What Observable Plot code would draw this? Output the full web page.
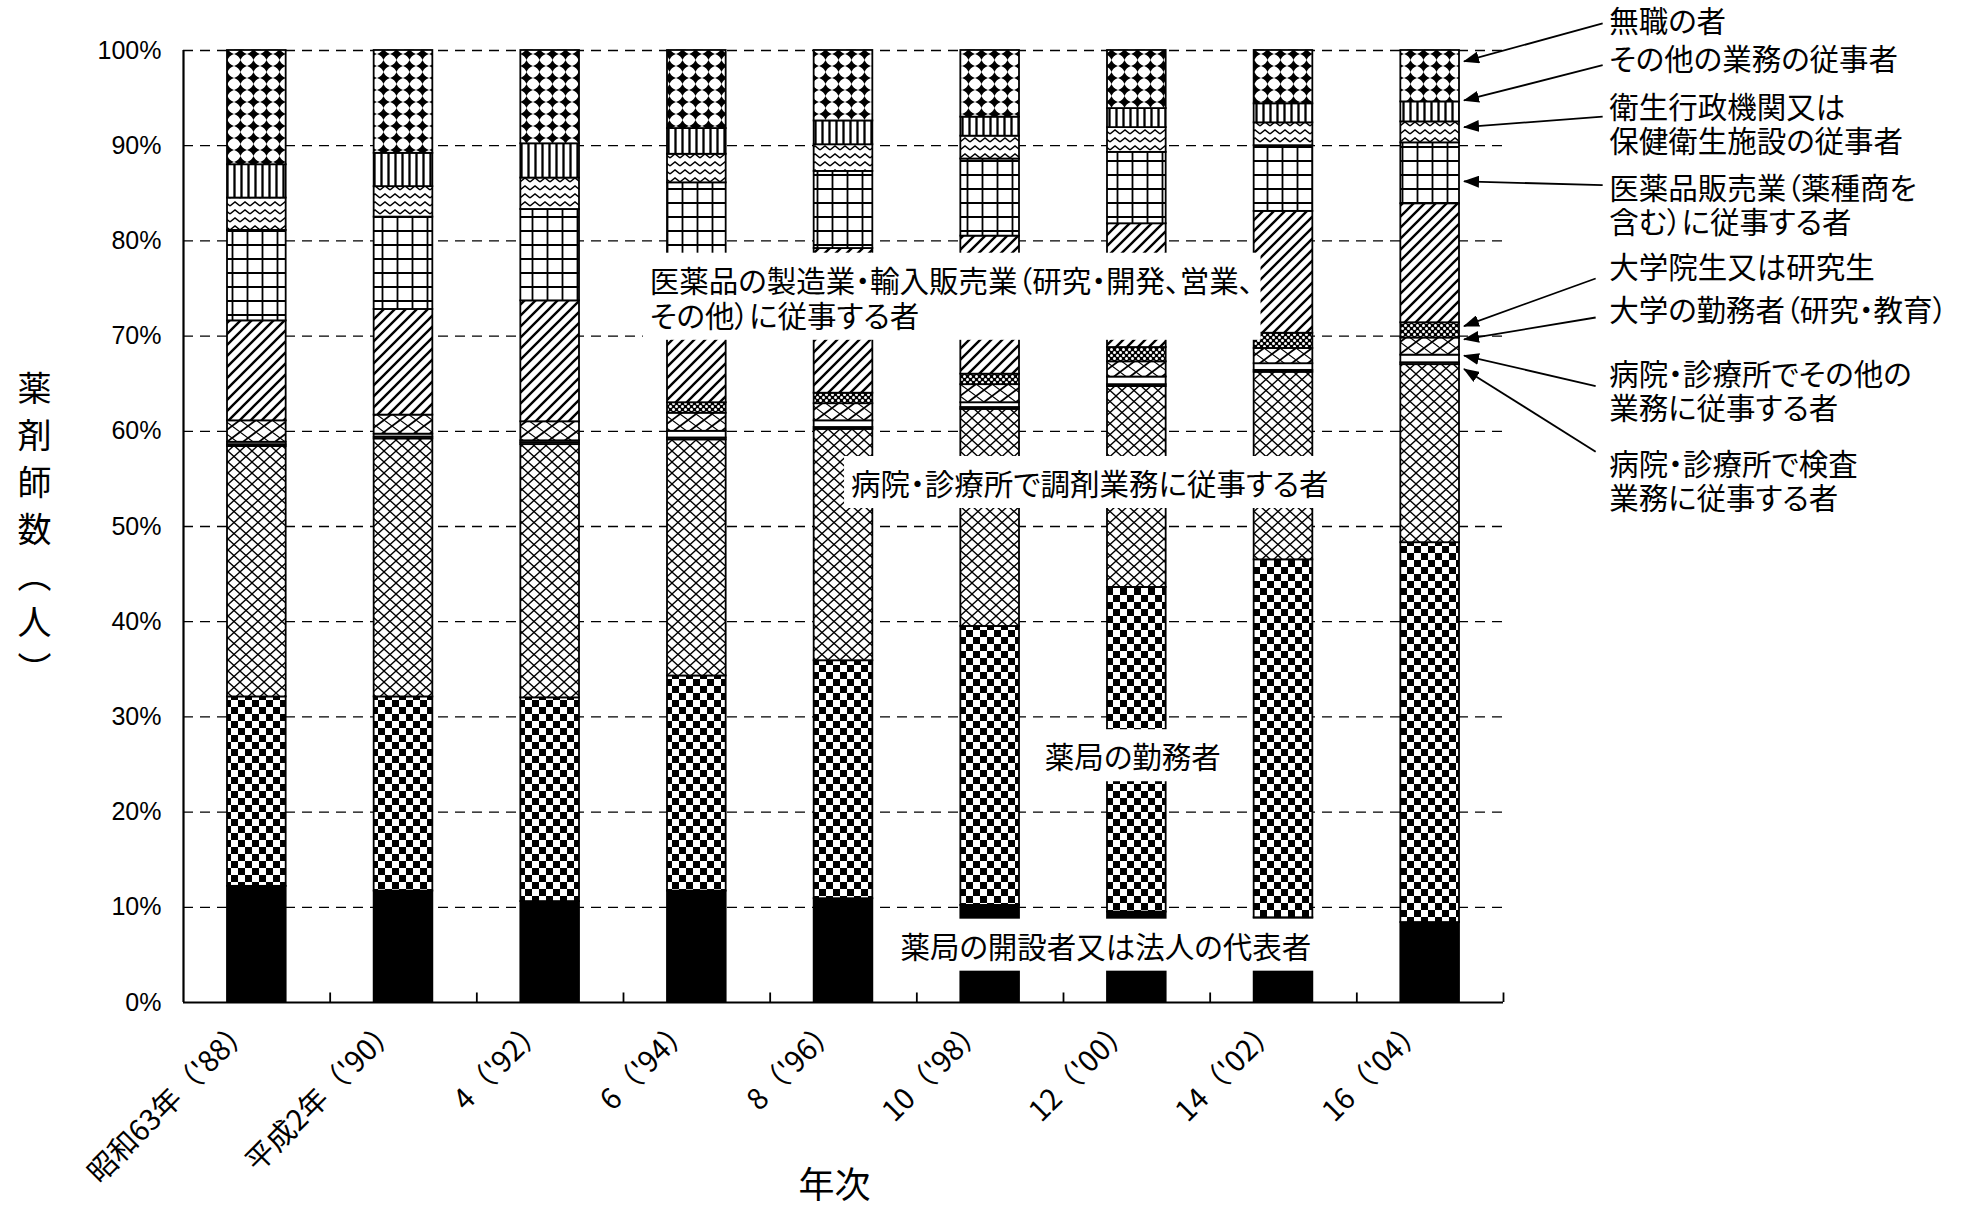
<!DOCTYPE html>
<html>
<head>
<meta charset="utf-8">
<script src="https://cdn.jsdelivr.net/npm/d3@7"></script>
<script src="https://cdn.jsdelivr.net/npm/@observablehq/plot@0.6"></script>
<style>
  html, body { margin: 0; padding: 0; background: #fff; }
  #chart svg { display: block; }
  g[aria-description="annot"] text, g[aria-description="legend-label"] text { font-feature-settings: "palt" 1; }
</style>
</head>
<body>
<div id="chart"></div>
<script>
// ---- data (percent of pharmacists) ----
const years = ["昭和63年（'88）", "平成2年（'90）", "4（'92）", "6（'94）", "8（'96）", "10（'98）", "12（'00）", "14（'02）", "16（'04）"];
const seriesNames = [
  "薬局の開設者又は法人の代表者",
  "薬局の勤務者",
  "病院・診療所で調剤業務に従事する者",
  "病院・診療所で検査業務に従事する者",
  "病院・診療所でその他の業務に従事する者",
  "大学の勤務者（研究・教育）",
  "大学院生又は研究生",
  "医薬品の製造業・輸入販売業に従事する者",
  "医薬品販売業に従事する者",
  "衛生行政機関又は保健衛生施設の従事者",
  "その他の業務の従事者",
  "無職の者"
];
const kaisetsu   = [12.2, 11.7, 10.6, 11.7, 10.9, 10.2, 9.5, 8.9, 8.4];
const kinmu      = [19.9, 20.4, 21.4, 22.6, 25.0, 29.3, 34.1, 37.6, 39.9];
const chozai     = [26.3, 27.1, 26.6, 24.8, 24.3, 22.8, 21.1, 19.7, 18.7];
const kensa      = [0.2, 0.2, 0.2, 0.2, 0.2, 0.2, 0.2, 0.2, 0.2];
const byoinOther = [0.25, 0.3, 0.2, 0.7, 0.7, 0.5, 0.8, 0.7, 0.8];
const daigaku    = [2.25, 2.0, 2.0, 1.9, 1.8, 1.9, 1.6, 1.6, 1.8];
const daigakuin  = [0, 0, 0, 1.1, 1.1, 1.1, 1.5, 1.6, 1.6];
const seizo      = [10.5, 11.1, 12.7, 14.0, 15.2, 14.5, 13.0, 12.8, 12.5];
const hanbai     = [9.5, 9.7, 9.6, 9.1, 8.1, 8.1, 7.5, 6.9, 6.4];
const eisei      = [3.4, 3.2, 3.3, 3.0, 2.8, 2.4, 2.6, 2.4, 2.2];
const sonota     = [3.5, 3.5, 3.6, 2.7, 2.5, 2.0, 2.0, 2.0, 2.1];
const mushoku    = [12.0, 10.8, 9.8, 8.2, 7.4, 7.0, 6.1, 5.6, 5.4];
const yTicks = [0, 10, 20, 30, 40, 50, 60, 70, 80, 90, 100];
const gridTicks = [10, 20, 30, 40, 50, 60, 70, 80, 90, 100];
const yTitle = "薬\n剤\n師\n数\n︵\n人\n︶";
const xTitle = "年次";

const seriesValues = [kaisetsu, kinmu, chozai, kensa, byoinOther, daigaku, daigakuin, seizo, hanbai, eisei, sonota, mushoku];
const rows = seriesNames.flatMap((name, k) =>
  years.map((year, i) => ({year, name, value: seriesValues[k][i]}))
).filter(d => d.value > 0);

// ---- fills (SVG patterns, black & white like the original) ----
const patternFills = [
  "#000", "url(#pChecker)", "url(#pXhatch)", "url(#pHLines)", "#fff", "url(#pUniv)",
  "url(#pDots)", "url(#pDiag)", "url(#pGrid)", "url(#pWave)", "url(#pVert)", "url(#pDiamond)"
];
const defsMarkup = `
<pattern id="pChecker" patternUnits="userSpaceOnUse" width="14" height="14"><rect width="14" height="14" fill="#fff"/><rect width="7" height="7" fill="#000"/><rect x="7" y="7" width="7" height="7" fill="#000"/></pattern>
<pattern id="pXhatch" patternUnits="userSpaceOnUse" width="12" height="11"><rect width="12" height="11" fill="#fff"/><path d="M0,0L12,11M12,0L0,11" stroke="#000" stroke-width="1.3" fill="none"/></pattern>
<pattern id="pHLines" patternUnits="userSpaceOnUse" width="6" height="3"><rect width="6" height="3" fill="#fff"/><path d="M0,1.5H6" stroke="#000" stroke-width="1.6"/></pattern>
<pattern id="pUniv" patternUnits="userSpaceOnUse" width="16" height="12"><rect width="16" height="12" fill="#fff"/><path d="M0,12L16,0" stroke="#000" stroke-width="1.8" fill="none"/><path d="M0,0L16,12" stroke="#000" stroke-width="1.1" fill="none"/></pattern>
<pattern id="pDots" patternUnits="userSpaceOnUse" width="6" height="6"><rect width="6" height="6" fill="#000"/><circle cx="1.5" cy="1.5" r="1.5" fill="#fff"/><circle cx="4.5" cy="4.5" r="1.5" fill="#fff"/></pattern>
<pattern id="pDiag" patternUnits="userSpaceOnUse" width="11" height="11"><rect width="11" height="11" fill="#fff"/><path d="M0,11L11,0M-3,3L3,-3M8,14L14,8" stroke="#000" stroke-width="2.4" fill="none"/></pattern>
<pattern id="pGrid" patternUnits="userSpaceOnUse" width="15" height="14"><rect width="15" height="14" fill="#fff"/><path d="M0,7H15M7.5,0V14" stroke="#000" stroke-width="1.8" fill="none"/></pattern>
<pattern id="pWave" patternUnits="userSpaceOnUse" width="10" height="8"><rect width="10" height="8" fill="#fff"/><path d="M0,6L5,2L10,6" stroke="#000" stroke-width="1.4" fill="none"/></pattern>
<pattern id="pVert" patternUnits="userSpaceOnUse" width="7" height="10"><rect width="7" height="10" fill="#fff"/><path d="M3.5,0V10" stroke="#000" stroke-width="2.3" fill="none"/></pattern>
<pattern id="pDiamond" patternUnits="userSpaceOnUse" width="13" height="12"><rect width="13" height="12" fill="#fff"/><path d="M6.5,0Q8.2,4.3 13,6Q8.2,7.7 6.5,12Q4.8,7.7 0,6Q4.8,4.3 6.5,0Z" fill="#000"/></pattern>
<marker id="arrowHead" markerUnits="userSpaceOnUse" markerWidth="16" markerHeight="12" refX="15" refY="6" orient="auto"><path d="M0,0L16,6L0,12Z" fill="#000"/></marker>
`;

// ---- layout ----
const W = 1970, H = 1206, ML = 183, MR = 467, MT = 50, MB = 204;
const step = (W - ML - MR) / years.length;
const JP = '"Noto Sans CJK JP", "Noto Sans", sans-serif';
const last = years[years.length - 1];
const FS = 29.5;

const chart = Plot.plot({
  width: W, height: H,
  marginLeft: ML, marginRight: MR, marginTop: MT, marginBottom: MB,
  style: {fontFamily: JP, background: "#fff", overflow: "visible", color: "#000"},
  x: {type: "band", domain: years, paddingInner: 0.6, paddingOuter: 0.3, round: false, axis: null},
  y: {domain: [0, 100], axis: null},
  color: {type: "ordinal", domain: seriesNames, range: patternFills},
  marks: [
    Plot.ruleY(gridTicks, {stroke: "#000", strokeWidth: 1.3, strokeDasharray: "10,7"}),
    Plot.barY(rows, {x: "year", y: "value", z: "name", fill: "name", order: seriesNames, stroke: "#000", strokeWidth: 1.8}),
    Plot.ruleY([0], {stroke: "#000", strokeWidth: 2.2}),
    Plot.ruleX(years.slice(0, 1), {x: d => d, dx: -step / 2, y1: 0, y2: 100, stroke: "#000", strokeWidth: 2.2}),
    Plot.ruleX(years, {x: d => d, dx: step / 2, y1: 0, y2: 1, stroke: "#000", strokeWidth: 1.8}),
    Plot.axisY(yTicks, {tickFormat: d => d + "%", tickSize: 0, tickPadding: 22, fontSize: 25, fontFamily: '"Liberation Sans", Arial, sans-serif', label: null}),
    Plot.axisX(years, {tickSize: 0, tickPadding: 0, tickRotate: -45, textAnchor: "end", lineAnchor: "middle", fontSize: 29, dy: 22, dx: -10, label: null}),
    Plot.text([yTitle], {frameAnchor: "left", dx: -166, fontSize: 34, lineHeight: 1.38}),
    Plot.text([xTitle], {frameAnchor: "bottom", dy: 195, dx: -9, fontSize: 36}),
    // inline labels with white boxes
    Plot.text(["医薬品の製造業・輸入販売業（研究・開発、営業、\nその他）に従事する者"], {x: () => years[3], y: 74.0, dx: -47, textAnchor: "start", fontSize: FS, lineHeight: 1.19, ariaDescription: "annot"}),
    Plot.text(["病院・診療所で調剤業務に従事する者"], {x: () => years[6], y: 54.3, dx: -47, fontSize: FS, ariaDescription: "annot"}),
    Plot.text(["薬局の勤務者"], {x: () => years[6], y: 25.6, dx: -4, fontSize: FS, ariaDescription: "annot"}),
    Plot.text(["薬局の開設者又は法人の代表者"], {x: () => years[6], y: 5.7, dx: -31, fontSize: FS, ariaDescription: "annot"}),
    // right-hand labels
    Plot.text(["無職の者"], {x: () => last, y: 102.9, dx: 179, textAnchor: "start", fontSize: FS, ariaDescription: "legend-label"}),
    Plot.text(["その他の業務の従事者"], {x: () => last, y: 98.9, dx: 179, textAnchor: "start", fontSize: FS, ariaDescription: "legend-label"}),
    Plot.text(["衛生行政機関又は\n保健衛生施設の従事者"], {x: () => last, y: 92.3, dx: 179, textAnchor: "start", fontSize: FS, lineHeight: 1.15, ariaDescription: "legend-label"}),
    Plot.text(["医薬品販売業（薬種商を\n含む）に従事する者"], {x: () => last, y: 83.8, dx: 179, textAnchor: "start", fontSize: FS, lineHeight: 1.15, ariaDescription: "legend-label"}),
    Plot.text(["大学院生又は研究生"], {x: () => last, y: 77.1, dx: 179, textAnchor: "start", fontSize: FS, ariaDescription: "legend-label"}),
    Plot.text(["大学の勤務者（研究・教育）"], {x: () => last, y: 72.6, dx: 179, textAnchor: "start", fontSize: FS, ariaDescription: "legend-label"}),
    Plot.text(["病院・診療所でその他の\n業務に従事する者"], {x: () => last, y: 64.2, dx: 179, textAnchor: "start", fontSize: FS, lineHeight: 1.15, ariaDescription: "legend-label"}),
    Plot.text(["病院・診療所で検査\n業務に従事する者"], {x: () => last, y: 54.8, dx: 179, textAnchor: "start", fontSize: FS, lineHeight: 1.15, ariaDescription: "legend-label"})
  ]
});

document.getElementById("chart").append(chart);
const svg = d3.select(chart);
svg.insert("defs", ":first-child").html(defsMarkup);

// white boxes behind inline labels
svg.selectAll('g[aria-description="annot"] text').each(function() {
  const b = this.getBBox();
  const r = document.createElementNS("http://www.w3.org/2000/svg", "rect");
  r.setAttribute("x", b.x - 7);
  r.setAttribute("y", b.y - 5);
  r.setAttribute("width", b.width + 14);
  r.setAttribute("height", b.height + 10);
  r.setAttribute("fill", "#fff");
  r.setAttribute("stroke", "none");
  const t = this.getAttribute("transform");
  if (t) r.setAttribute("transform", t);
  this.parentNode.insertBefore(r, this);
});

// leader arrows from the right-hand labels to the last bar
const xs = chart.scale("x"), ys = chart.scale("y");
const xc = xs.apply(last) + xs.bandwidth / 2;
const tipOffset = xs.bandwidth / 2 + 5;
const arrows = [
  [102.8, 98.8, 173], [98.4, 94.7, 173], [93.0, 91.9, 173], [85.8, 86.2, 173],
  [76.0, 71.0, 166], [71.9, 69.6, 166], [64.7, 67.9, 166], [57.8, 66.5, 166]
];
const ga = svg.append("g").attr("aria-label", "leaders");
for (const [yFrom, yTo, off] of arrows) {
  ga.append("line")
    .attr("x1", xc + off).attr("y1", ys.apply(yFrom))
    .attr("x2", xc + tipOffset).attr("y2", ys.apply(yTo))
    .attr("stroke", "#000").attr("stroke-width", 1.8)
    .attr("marker-end", "url(#arrowHead)");
}
</script>
</body>
</html>
